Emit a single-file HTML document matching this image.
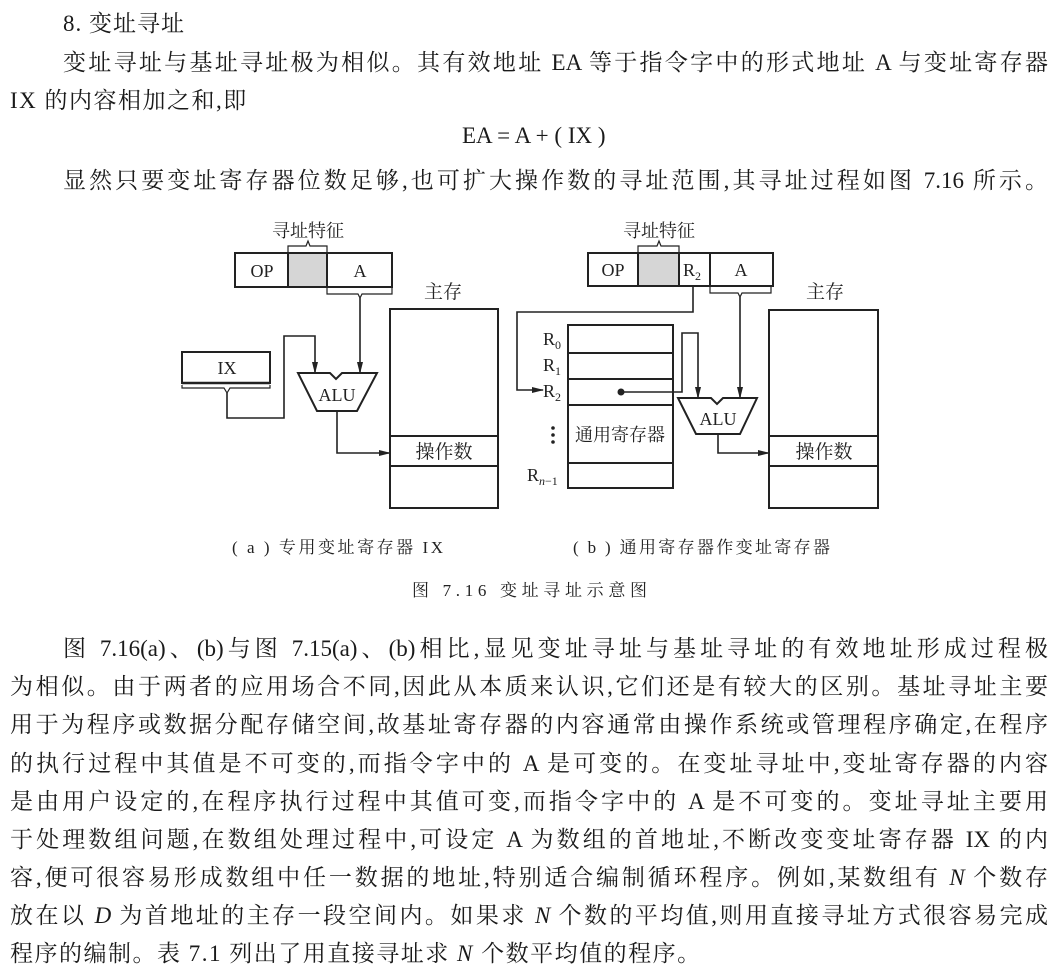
<!DOCTYPE html>
<html><head><meta charset="utf-8">
<style>
html,body{margin:0;padding:0;background:#fff;}
body{width:1056px;height:978px;position:relative;overflow:hidden;font-family:"Liberation Serif","Noto Serif CJK SC",serif;color:#1a1a1a;}
.l{position:absolute;font-size:23px;line-height:27px;white-space:nowrap;}
.j{text-align:justify;text-align-last:justify;white-space:normal;overflow:hidden;height:27px;}
svg{position:absolute;left:0;top:0;}
</style></head><body>
<div class="l" style="left:63px;top:10px;letter-spacing:1px;">8. 变址寻址</div>
<div class="l j" style="left:63px;top:49px;width:985px;">变址寻址与基址寻址极为相似。其有效地址 EA 等于指令字中的形式地址 A 与变址寄存器</div>
<div class="l" style="left:10px;top:87px;letter-spacing:1.5px;">IX 的内容相加之和,即</div>
<div class="l" style="left:462px;top:122px;">EA = A + ( IX )</div>
<div class="l j" style="left:63px;top:167px;width:985px;">显然只要变址寄存器位数足够,也可扩大操作数的寻址范围,其寻址过程如图 7.16 所示。</div>

<svg width="1056" height="978" viewBox="0 0 1056 978" font-family="Liberation Serif, Noto Serif CJK SC, serif" fill="none" stroke="#222" stroke-width="1.6">
<defs><marker id="ar" markerWidth="12" markerHeight="6" refX="11" refY="3" orient="auto" markerUnits="userSpaceOnUse"><path d="M0,0 L12,3 L0,6 Z" fill="#222" stroke="none"/></marker></defs>
<!-- (a) -->
<rect x="288" y="253" width="39" height="34" fill="#d6d6d6" stroke="none"/>
<rect x="235" y="253" width="157" height="34" stroke-width="2"/>
<line x1="288" y1="253" x2="288" y2="287" stroke-width="2"/>
<line x1="327" y1="253" x2="327" y2="287" stroke-width="2"/>
<path d="M288,252 v-6 h18 l2,-5 l2,5 h17 v6" stroke-width="1.2"/>
<path d="M327,288 v6 h31 l2,4 l2,-4 h30 v-6" stroke-width="1.2"/>
<text x="308" y="237" font-size="18" text-anchor="middle" fill="#222" stroke="none">寻址特征</text>
<text x="262" y="277" font-size="18" text-anchor="middle" fill="#222" stroke="none">OP</text>
<text x="360" y="277" font-size="18" text-anchor="middle" fill="#222" stroke="none">A</text>
<line x1="360" y1="298" x2="360" y2="373" marker-end="url(#ar)"/>
<path d="M182,384 v-32 h88 v32" stroke-width="2"/>
<line x1="182" y1="383" x2="270" y2="383" stroke-width="2.5"/>
<path d="M182,385 v3 h42 l3,5 l3,-5 h40 v-3" stroke-width="1.2"/>
<text x="227" y="374" font-size="18" text-anchor="middle" fill="#222" stroke="none">IX</text>
<path d="M227,393 V418 H284 V336 H315 V373" marker-end="url(#ar)"/>
<path d="M298,373 H330 L336,379 L342,373 H377 L357,411 H317 Z" stroke-width="2"/>
<text x="337" y="401" font-size="18" text-anchor="middle" fill="#222" stroke="none">ALU</text>
<path d="M337,411 V453 H390" marker-end="url(#ar)"/>
<text x="443" y="298" font-size="19" text-anchor="middle" fill="#222" stroke="none">主存</text>
<rect x="390" y="309" width="108" height="199" stroke-width="2"/>
<line x1="390" y1="436" x2="498" y2="436" stroke-width="2"/>
<line x1="390" y1="466" x2="498" y2="466" stroke-width="2"/>
<text x="444" y="458" font-size="19" text-anchor="middle" fill="#222" stroke="none">操作数</text>
<!-- (b) -->
<rect x="638" y="253" width="41" height="33" fill="#d6d6d6" stroke="none"/>
<rect x="588" y="253" width="185" height="33" stroke-width="2"/>
<line x1="638" y1="253" x2="638" y2="286" stroke-width="2"/>
<line x1="679" y1="253" x2="679" y2="286" stroke-width="2"/>
<line x1="710" y1="253" x2="710" y2="286" stroke-width="2"/>
<path d="M638,252 v-6 h19 l2,-5 l2,5 h18 v6" stroke-width="1.2"/>
<path d="M710,287 v6 h28 l2,4 l2,-4 h29 v-6" stroke-width="1.2"/>
<text x="659" y="237" font-size="18" text-anchor="middle" fill="#222" stroke="none">寻址特征</text>
<text x="613" y="276" font-size="18" text-anchor="middle" fill="#222" stroke="none">OP</text>
<text x="692" y="276" font-size="18" text-anchor="middle" fill="#222" stroke="none">R<tspan font-size="12" dy="4">2</tspan></text>
<text x="741" y="276" font-size="18" text-anchor="middle" fill="#222" stroke="none">A</text>
<line x1="740" y1="297" x2="740" y2="398" marker-end="url(#ar)"/>
<path d="M693,287 V312 H517 V390 H543" marker-end="url(#ar)"/>
<rect x="568" y="325" width="105" height="163" stroke-width="2"/>
<line x1="568" y1="353" x2="673" y2="353" stroke-width="2"/>
<line x1="568" y1="379" x2="673" y2="379" stroke-width="2"/>
<line x1="568" y1="405" x2="673" y2="405" stroke-width="2"/>
<line x1="568" y1="463" x2="673" y2="463" stroke-width="2"/>
<g fill="#222" stroke="none" font-size="18">
<text x="543" y="345">R<tspan font-size="12" dy="4">0</tspan></text>
<text x="543" y="371">R<tspan font-size="12" dy="4">1</tspan></text>
<text x="543" y="397">R<tspan font-size="12" dy="4">2</tspan></text>
<text x="527" y="481">R<tspan font-size="12" dy="4" font-style="italic">n</tspan><tspan font-size="12">−1</tspan></text>
<circle cx="553" cy="428" r="1.8"/><circle cx="553" cy="435" r="1.8"/><circle cx="553" cy="442" r="1.8"/>
<text x="620" y="441" font-size="18" text-anchor="middle">通用寄存器</text>
<circle cx="621" cy="392" r="3.5"/>
</g>
<path d="M621,392 H682 V333 H698 V398" marker-end="url(#ar)"/>
<path d="M678,398 H711 L717,404 L723,398 H757 L740,434 H696 Z" stroke-width="2"/>
<text x="718" y="425" font-size="18" text-anchor="middle" fill="#222" stroke="none">ALU</text>
<path d="M718,434 V453 H769" marker-end="url(#ar)"/>
<text x="825" y="298" font-size="19" text-anchor="middle" fill="#222" stroke="none">主存</text>
<rect x="769" y="310" width="109" height="198" stroke-width="2"/>
<line x1="769" y1="436" x2="878" y2="436" stroke-width="2"/>
<line x1="769" y1="466" x2="878" y2="466" stroke-width="2"/>
<text x="824" y="458" font-size="19" text-anchor="middle" fill="#222" stroke="none">操作数</text>
<g fill="#222" stroke="none" font-size="17">
<text x="232" y="553" textLength="211" lengthAdjust="spacing">( a )  专用变址寄存器 IX</text>
<text x="573" y="553" textLength="257" lengthAdjust="spacing">( b )  通用寄存器作变址寄存器</text>
<text x="412" y="596" textLength="235" lengthAdjust="spacing">图 7.16    变址寻址示意图</text>
</g>
</svg>

<div class="l j" style="left:63px;top:635px;width:985px;">图 7.16(a)、(b)与图 7.15(a)、(b)相比,显见变址寻址与基址寻址的有效地址形成过程极</div>
<div class="l j" style="left:10px;top:673px;width:1038px;">为相似。由于两者的应用场合不同,因此从本质来认识,它们还是有较大的区别。基址寻址主要</div>
<div class="l j" style="left:10px;top:711px;width:1038px;">用于为程序或数据分配存储空间,故基址寄存器的内容通常由操作系统或管理程序确定,在程序</div>
<div class="l j" style="left:10px;top:750px;width:1038px;">的执行过程中其值是不可变的,而指令字中的 A 是可变的。在变址寻址中,变址寄存器的内容</div>
<div class="l j" style="left:10px;top:788px;width:1038px;">是由用户设定的,在程序执行过程中其值可变,而指令字中的 A 是不可变的。变址寻址主要用</div>
<div class="l j" style="left:10px;top:826px;width:1038px;">于处理数组问题,在数组处理过程中,可设定 A 为数组的首地址,不断改变变址寄存器 IX 的内</div>
<div class="l j" style="left:10px;top:864px;width:1038px;">容,便可很容易形成数组中任一数据的地址,特别适合编制循环程序。例如,某数组有 <i>N</i> 个数存</div>
<div class="l j" style="left:10px;top:902px;width:1038px;">放在以 <i>D</i> 为首地址的主存一段空间内。如果求 <i>N</i> 个数的平均值,则用直接寻址方式很容易完成</div>
<div class="l" style="left:10px;top:940px;letter-spacing:1.5px;">程序的编制。表 7.1 列出了用直接寻址求 <i>N</i> 个数平均值的程序。</div>
</body></html>
